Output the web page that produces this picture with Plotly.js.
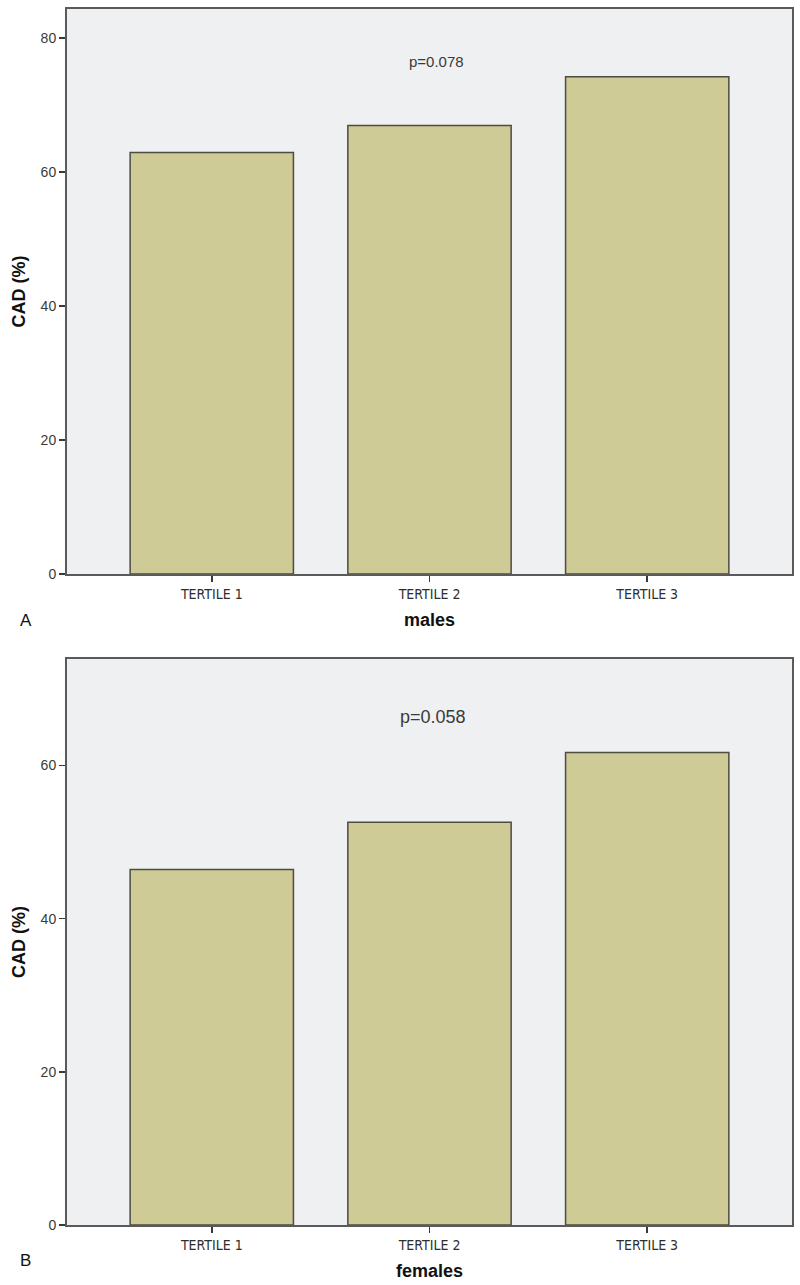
<!DOCTYPE html>
<html>
<head>
<meta charset="utf-8">
<script src="https://cdn.plot.ly/plotly-3.0.1.min.js"></script>
<style>html,body{margin:0;padding:0;background:#fff}#chart{width:800px;height:1285px}</style>
</head>
<body>
<div id="chart"></div>
<script>
const categories = ["TERTILE 1", "TERTILE 2", "TERTILE 3"];
const malesCAD = [62.9, 66.9, 74.2];
const femalesCAD = [46.4, 52.6, 61.7];
const pMales = "p=0.078";
const pFemales = "p=0.058";
const yTickVals = [0, 20, 40, 60, 80];

const barStyle = {color: '#cecb96', line: {color: '#4d4c42', width: 1.5}};
const xTickFont = {family: 'DejaVu Sans Condensed, Liberation Sans Narrow, Liberation Sans, sans-serif', size: 14, color: '#2e2e2e'};
const yTickFont = {family: 'Liberation Sans, Arial, sans-serif', size: 14, color: '#3a3a3a'};
const titleFont = {family: 'Liberation Sans, Arial, sans-serif', size: 18, color: '#111', weight: 'bold'};

const traces = [
  {type: 'bar', x: categories, y: malesCAD, xaxis: 'x', yaxis: 'y', width: 0.75, marker: barStyle, hoverinfo: 'skip'},
  {type: 'bar', x: categories, y: femalesCAD, xaxis: 'x2', yaxis: 'y2', width: 0.75, marker: barStyle, hoverinfo: 'skip'}
];

function xAxis(titleText, anchor) {
  return {
    domain: [67/800, 792/800], anchor: anchor,
    range: [-0.665, 2.665], type: 'category',
    showline: true, mirror: true, linecolor: '#5a5a5a', linewidth: 2,
    ticks: 'outside', ticklen: 6, tickcolor: '#3a3a3a', tickwidth: 1.5,
    tickfont: xTickFont, showgrid: false, zeroline: false,
    title: {text: titleText, font: titleFont, standoff: 13}
  };
}
function yAxis(domain, range, anchor) {
  return {
    domain: domain, anchor: anchor, range: range,
    tickvals: yTickVals, ticks: 'outside', ticklen: 6, tickcolor: '#3a3a3a', tickwidth: 1.5,
    tickfont: yTickFont, showline: true, mirror: true, linecolor: '#5a5a5a', linewidth: 2,
    showgrid: false, zeroline: false,
    title: {text: 'CAD (%)', font: titleFont, standoff: 10}
  };
}

const layout = {
  width: 800, height: 1285,
  margin: {l: 0, r: 0, t: 0, b: 0},
  paper_bgcolor: '#ffffff', plot_bgcolor: '#eff0f2',
  showlegend: false, bargap: 0.25,
  xaxis: xAxis('males', 'y'),
  yaxis: yAxis([1 - 574/1285, 1 - 9/1285], [0, 84.3], 'x'),
  xaxis2: xAxis('females', 'y2'),
  yaxis2: yAxis([1 - 1225/1285, 1 - 659/1285], [0, 73.9], 'x2'),
  annotations: [
    {xref: 'x domain', yref: 'y domain', x: 0.51, y: 0.926, text: pMales, showarrow: false,
     font: {family: 'Liberation Sans, Arial, sans-serif', size: 15, color: '#3a3a3a'}},
    {xref: 'x2 domain', yref: 'y2 domain', x: 0.505, y: 0.919, text: pFemales, showarrow: false,
     font: {family: 'Liberation Sans, Arial, sans-serif', size: 18, color: '#3a3a3a'}},
    {xref: 'paper', yref: 'paper', x: 18/800, y: 1 - 620/1285, text: 'A', showarrow: false,
     font: {family: 'Liberation Sans, Arial, sans-serif', size: 17, color: '#111'}},
    {xref: 'paper', yref: 'paper', x: 18/800, y: 1 - 1272/1285, text: 'B', showarrow: false,
     font: {family: 'Liberation Sans, Arial, sans-serif', size: 17, color: '#111'}}
  ]
};

Plotly.newPlot('chart', traces, layout, {staticPlot: true, displayModeBar: false});
</script>
</body>
</html>
